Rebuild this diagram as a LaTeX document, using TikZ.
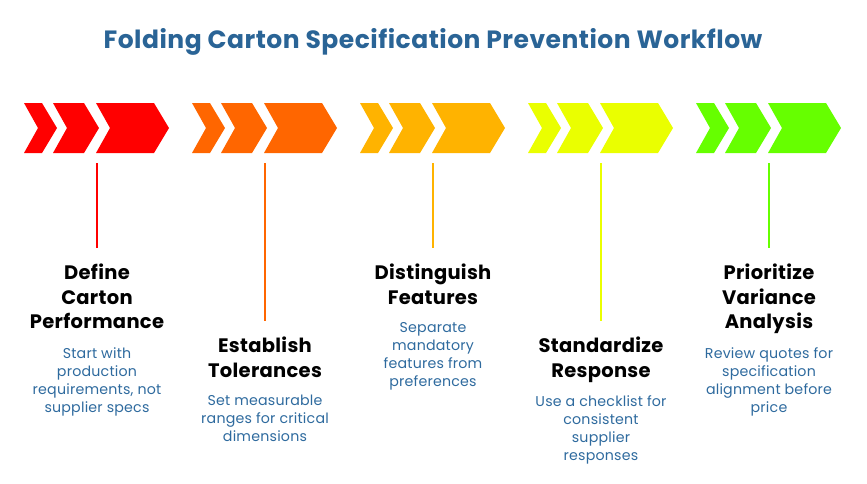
\documentclass[tikz,border=0pt]{standalone}
\usepackage{fontspec}
\setmainfont{Poppins}
\definecolor{c1}{HTML}{FF0000}
\definecolor{c2}{HTML}{FF6600}
\definecolor{c3}{HTML}{FFB300}
\definecolor{c4}{HTML}{EAFF00}
\definecolor{c5}{HTML}{66FF00}
\definecolor{ttl}{HTML}{2A6496}
\definecolor{bodyc}{HTML}{2E6A9E}
\newcommand{\chevgroup}[2]{%
  \foreach \L/\R in {-73/-55,-44/-13,-1/57}{
    \fill[#2] (#1+\L,103) -- (#1+\R,103) -- (#1+\R+15,128) -- (#1+\R,153) -- (#1+\L,153) -- (#1+\L+14,128) -- cycle;}}
\begin{document}
\begin{tikzpicture}[x=1pt,y=-1pt,
  head/.style={anchor=north,inner sep=0pt,align=center,font=\fontsize{19.5}{24.5}\selectfont\bfseries\addfontfeature{LetterSpace=1.5},text=black},
  body/.style={anchor=north,inner sep=0pt,align=center,font=\fontsize{14.2}{18}\selectfont\addfontfeature{LetterSpace=1.5},text=bodyc},
  conn/.style={line width=1.3pt}]
\useasboundingbox (0,0) rectangle (867,483);
\node[inner sep=0pt,font=\fontsize{25}{28}\selectfont\bfseries\addfontfeature{LetterSpace=2},text=ttl] (title) at (433,42) {Folding Carton Specification Prevention Workflow};
\chevgroup{97}{c1}
\chevgroup{265}{c2}
\chevgroup{433}{c3}
\chevgroup{601}{c4}
\chevgroup{769}{c5}
\foreach \i/\x in {1/97,2/265,3/433,4/601,5/769}{\coordinate (t\i) at (\x,163);}
\node[head] (h1) at (97,264) {Define\\Carton\\Performance};
\node[body] (b1) at (97,347) {Start with\\production\\requirements, not\\supplier specs};
\node[head] (h2) at (265,337) {Establish\\Tolerances};
\node[body] (b2) at (265,395) {Set measurable\\ranges for critical\\dimensions};
\node[head] (h3) at (433,264) {Distinguish\\Features};
\node[body] (b3) at (433,322) {Separate\\mandatory\\features from\\preferences};
\node[head] (h4) at (601,337) {Standardize\\Response};
\node[body] (b4) at (601,395) {Use a checklist for\\consistent\\supplier\\responses};
\node[head] (h5) at (769,264) {Prioritize\\Variance\\Analysis};
\node[body] (b5) at (769,347) {Review quotes for\\specification\\alignment before\\price};
\draw[conn,c1] (t1) -- ([yshift=16pt]h1.north);
\draw[conn,c2] (t2) -- ([yshift=16pt]h2.north);
\draw[conn,c3] (t3) -- ([yshift=16pt]h3.north);
\draw[conn,c4] (t4) -- ([yshift=16pt]h4.north);
\draw[conn,c5] (t5) -- ([yshift=16pt]h5.north);
\end{tikzpicture}
\end{document}
